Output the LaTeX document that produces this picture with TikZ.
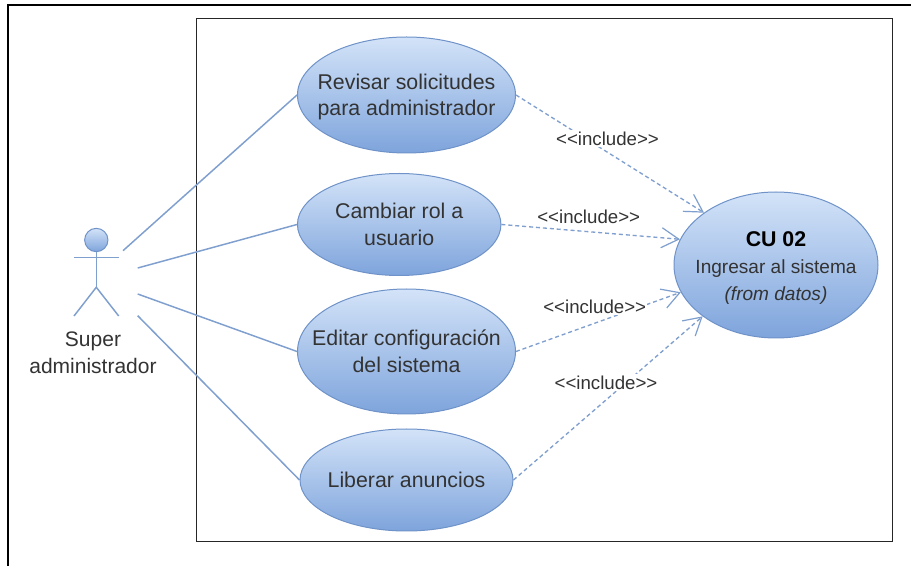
\documentclass[tikz,border=0pt]{standalone}
\usepackage{fontspec}
\setmainfont{Liberation Sans}
\usetikzlibrary{shapes.geometric,arrows.meta}
\definecolor{umlline}{HTML}{7F9FCF}
\definecolor{umlborder}{HTML}{6F93C8}
\definecolor{umltop}{HTML}{D3E3F8}
\definecolor{umlbot}{HTML}{7EA4DC}
\definecolor{umltext}{HTML}{333333}
\tikzset{
  px/.style={x=0.75pt,y=-0.75pt},
  usecase/.style={ellipse,draw=umlborder,line width=0.75pt,top color=umltop,bottom color=umlbot,
    inner sep=-30pt,align=center,text=umltext,font=\fontsize{16}{20}\selectfont},
  assoc/.style={draw=umlline,line width=1.1pt},
  incl/.style={draw=umlline,line width=1pt,dash pattern=on 3pt off 2.2pt,
    -{Straight Barb[length=13pt,width=15pt,line width=0.9pt]}},
  inclabel/.style={fill=white,inner sep=1pt,text=umltext,font=\fontsize{14}{16}\selectfont},
  frameline/.style={draw=black,line width=1.5pt},
  boundary/.style={draw=black!85,line width=0.9pt},
  actorlabel/.style={align=center,text=umltext,font=\fontsize{15.75}{20}\selectfont}
}
\begin{document}
\begin{tikzpicture}[px]
\useasboundingbox (0,0) rectangle (911,566);
\fill[white] (0,0) rectangle (911,566);
\draw[frameline] (8,566) -- (8,5) -- (911,5);
\node[boundary,draw,minimum width=522pt,minimum height=392.25pt,inner sep=0pt,anchor=north west] (sys) at (196,18) {};

\node[usecase,minimum width=163.5pt,minimum height=87pt] (rev) at (406.5,95) {\rule{0pt}{14.5pt}Revisar solicitudes\\para administrador};
\node[usecase,minimum width=152.6pt,minimum height=76.5pt] (cam) at (399.2,224.5) {Cambiar rol a\\usuario};
\node[usecase,minimum width=163.5pt,minimum height=93.75pt] (edi) at (406.5,351.5) {Editar configuración\\del sistema};
\node[usecase,minimum width=159.75pt,minimum height=76.5pt] (lib) at (406.5,480) {Liberar anuncios};
\node[usecase,minimum width=153pt,minimum height=109.5pt] (cu) at (776,265) {{\rule{0pt}{15.5pt}\fontsize{16}{20}\selectfont\bfseries\color{black}CU 02}\\{\fontsize{14.3}{20}\selectfont Ingresar al sistema}\\{\fontsize{14.3}{20}\selectfont\itshape (from datos)}};

\node[circle,draw=umlborder,line width=0.75pt,top color=umltop,bottom color=umlbot,minimum size=17.5pt,inner sep=0pt] (head) at (96.3,240) {};
\coordinate (hip) at (96.3,287.3);
\coordinate (armL) at (74,257.7);
\coordinate (armR) at (118.7,257.7);
\coordinate (footL) at (74,316);
\coordinate (footR) at (118.7,316);
\draw[assoc] (head.south) -- (hip);
\draw[assoc] (armL) -- (armR);
\draw[assoc] (footL) -- (hip) -- (footR);
\node[actorlabel] (actor) at (93,352.5) {Super\\administrador};

\coordinate (a1) at (123,250.7);
\coordinate (a2) at (137.7,268);
\coordinate (a3) at (137.7,294);
\coordinate (a4) at (137.7,315.7);
\draw[assoc] (a1) -- (rev.west);
\draw[assoc] (a2) -- (cam.west);
\draw[assoc] (a3) -- (edi.west);
\draw[assoc] (a4) -- (lib.west);

\draw[incl] (rev.east) -- (cu.144.5);
\draw[incl] (cam.east) -- (cu.165.4);
\draw[incl] (edi.east) -- (cu.196.6);
\draw[incl] (lib.east) -- (cu.215.8);

\node[inclabel] (l1) at (607.5,138.5) {<{}<include>{}>};
\node[inclabel,fill=none] (l2) at (588.7,217) {<{}<include>{}>};
\node[inclabel] (l3) at (594.7,307) {<{}<include>{}>};
\node[inclabel] (l4) at (606,382.5) {<{}<include>{}>};
\end{tikzpicture}
\end{document}
